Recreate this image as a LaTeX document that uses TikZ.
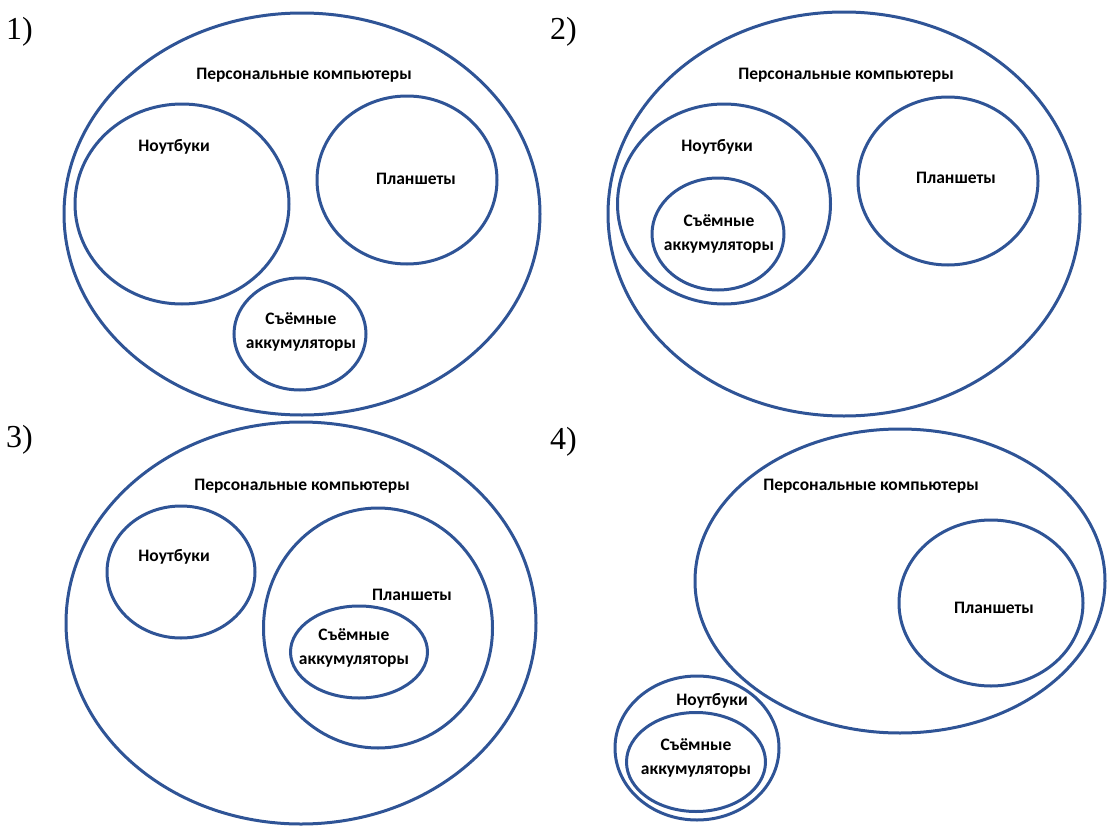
\documentclass[tikz,border=0pt]{standalone}
\usepackage{fontspec}
\setmainfont{Carlito}
\newfontfamily\numfont{Liberation Serif}
\usetikzlibrary{shapes.geometric}
\definecolor{setblue}{RGB}{47,84,150}
\tikzset{
  setshape/.style={draw=setblue, line width=3pt, ellipse, inner sep=0pt, outer sep=0pt},
  lbl/.style={font=\fontsize{17.5}{24}\selectfont\bfseries, text=black, align=center, inner sep=0pt},
  numlbl/.style={font=\fontsize{32}{34}\selectfont\numfont, anchor=west, inner sep=0pt}
}
\begin{document}
\begin{tikzpicture}[x=1pt,y=-1pt]
\useasboundingbox (0,0) rectangle (1120,835);
% panel labels
\node[numlbl] (n1) at (6,32) {1)};
\node[numlbl] (n2) at (550,32) {2)};
\node[numlbl] (n3) at (6,440) {3)};
\node[numlbl] (n4) at (550,442) {4)};

% ---------- panel 1
\node[setshape, minimum width=476pt, minimum height=402pt] (a-pc) at (302,214) {};
\node[setshape, minimum width=214pt, minimum height=200pt] (a-nb) at (182,204) {};
\node[setshape, minimum width=180pt, minimum height=168pt] (a-pl) at (407,180) {};
\node[setshape, minimum width=132pt, minimum height=112pt] (a-ak) at (300,334) {};
\node[lbl] (a-pct) at (304,75) {Персональные компьютеры};
\node[lbl] (a-nbt) at (174,147) {Ноутбуки};
\node[lbl] (a-plt) at (416,179) {Планшеты};
\node[lbl] (a-akt) at (301,332) {Съёмные\\аккумуляторы};

% ---------- panel 2
\node[setshape, minimum width=472pt, minimum height=404pt] (b-pc) at (844,214) {};
\node[setshape, minimum width=213pt, minimum height=200pt] (b-nb) at (724,204) {};
\node[setshape, minimum width=132pt, minimum height=112pt] (b-ak) at (718,234) {};
\node[setshape, minimum width=180pt, minimum height=168pt] (b-pl) at (948,181) {};
\node[lbl] (b-pct) at (846,75) {Персональные компьютеры};
\node[lbl] (b-nbt) at (717,147) {Ноутбуки};
\node[lbl] (b-plt) at (956,178) {Планшеты};
\node[lbl] (b-akt) at (719,234) {Съёмные\\аккумуляторы};

% ---------- panel 3
\node[setshape, minimum width=470pt, minimum height=402pt] (c-pc) at (301,623) {};
\node[setshape, minimum width=148pt, minimum height=132pt] (c-nb) at (181,572) {};
\node[setshape, minimum width=229pt, minimum height=240pt] (c-pl) at (378,628) {};
\node[setshape, minimum width=137pt, minimum height=92pt] (c-ak) at (359,652) {};
\node[lbl] (c-pct) at (302,486) {Персональные компьютеры};
\node[lbl] (c-nbt) at (174,557) {Ноутбуки};
\node[lbl] (c-plt) at (412,595) {Планшеты};
\node[lbl] (c-akt) at (354,648) {Съёмные\\аккумуляторы};

% ---------- panel 4
\node[setshape, minimum width=410pt, minimum height=304pt] (d-pc) at (900,581) {};
\node[setshape, minimum width=184pt, minimum height=166pt] (d-pl) at (991,603) {};
\node[setshape, minimum width=164pt, minimum height=144pt] (d-nb) at (697,748) {};
\node[setshape, minimum width=139pt, minimum height=99pt] (d-ak) at (696,762) {};
\node[lbl] (d-pct) at (871,486) {Персональные компьютеры};
\node[lbl] (d-plt) at (994,608) {Планшеты};
\node[lbl] (d-nbt) at (712,701) {Ноутбуки};
\node[lbl] (d-akt) at (696,758) {Съёмные\\аккумуляторы};
\end{tikzpicture}
\end{document}
